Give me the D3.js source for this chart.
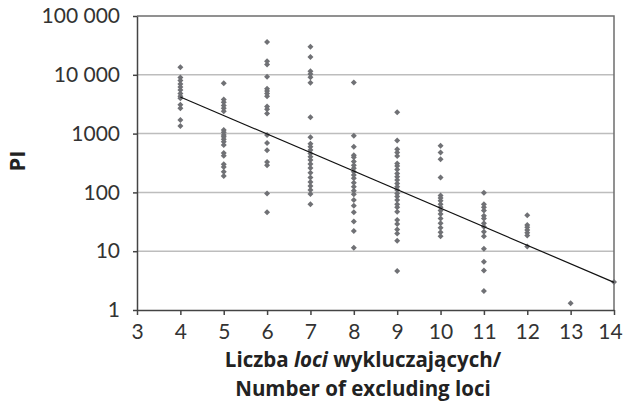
<!DOCTYPE html>
<html lang="pl">
<head>
  <meta charset="UTF-8">
  <title>PI vs liczba loci wykluczających</title>
  <script src="https://d3js.org/d3.v7.min.js"></script>
  <style>
    body { margin: 0; background: #fff; }
    svg text { font-family: Lato, "Open Sans", sans-serif; fill: #333; }
    .tick text { font-size: 21px; }
    .axis-title { font-family: "Open Sans", Lato, sans-serif; font-size: 20.5px; font-weight: bold; fill: #222; }
  </style>
</head>
<body>
  <div id="chart"></div>
  <script>
    // x tick values and y tick labels (log scale)
    const xTicks = [3, 4, 5, 6, 7, 8, 9, 10, 11, 12, 13, 14];
    const yTicks = [1, 10, 100, 1000, 10000, 100000];
    const yTickLabels = ["1", "10", "100", "1000", "10 000", "100 000"];

    // PI values, one array per number of excluding loci
    const pi4 = [13500, 9000, 8000, 7000, 6200, 5500, 4800, 4300, 4000, 3100, 2700, 1700, 1350];
    const pi5 = [7200, 3800, 3400, 3000, 2700, 2400, 1150, 1050, 950, 880, 800, 730, 640, 470, 420, 300, 270, 225, 190];
    const pi6 = [36000, 17000, 15000, 9300, 5800, 5300, 4800, 4300, 2900, 2600, 2200, 950, 690, 520, 330, 290, 96, 46];
    const pi7 = [30000, 20000, 11500, 10300, 9100, 7300, 1900, 870, 670, 600, 525, 460, 405, 355, 305, 260, 215, 180, 150, 128, 110, 94, 63];
    const pi8 = [7400, 920, 600, 430, 395, 335, 290, 257, 225, 198, 174, 146, 125, 107, 93, 74, 59, 46, 32, 22, 11.5];
    const pi9 = [2300, 760, 540, 475, 415, 310, 280, 245, 210, 185, 163, 142, 125, 110, 96, 85, 74, 63, 56, 47, 34, 29, 23.5, 20, 15, 4.6];
    const pi10 = [620, 475, 365, 180, 89, 80, 72, 63, 56, 49, 43, 36, 30, 25, 21, 18];
    const pi11 = [99, 63, 56, 49, 40, 36, 30, 26, 21.5, 18, 11, 6.6, 4.7, 2.1];
    const pi12 = [41, 28, 25.5, 23, 20.5, 18.5, 12];
    const pi13 = [1.3];
    const pi14 = [3];

    // trend line (exponential fit) endpoints
    const trendX = [4, 14];
    const trendY = [4200, 2.95];

    const width = 625;
    const height = 402;
    const margin = { top: 16, right: 11, bottom: 92, left: 137 };

    const groups = [
      [4, pi4], [5, pi5], [6, pi6], [7, pi7], [8, pi8], [9, pi9],
      [10, pi10], [11, pi11], [12, pi12], [13, pi13], [14, pi14]
    ];
    const points = [];
    groups.forEach(([x, vals]) => vals.forEach(v => points.push({ x: x, y: v })));

    const svg = d3.select("#chart")
      .append("svg")
      .attr("width", width)
      .attr("height", height);

    const xScale = d3.scaleLinear()
      .domain([3, 14])
      .range([margin.left, width - margin.right]);

    const yScale = d3.scaleLog()
      .domain([1, 100000])
      .range([height - margin.bottom, margin.top]);

    // Gridlines
    svg.append("g")
      .selectAll("line")
      .data(yTicks.slice(1, -1))
      .join("line")
      .attr("x1", margin.left)
      .attr("x2", width - margin.right)
      .attr("y1", d => yScale(d))
      .attr("y2", d => yScale(d))
      .attr("stroke", "#bdbdbd")
      .attr("stroke-width", 1.5);

    // Frame: top and right
    svg.append("path")
      .attr("d", `M${margin.left},${yScale(100000)}H${xScale(14)}V${yScale(1)}`)
      .attr("fill", "none")
      .attr("stroke", "#6e6e6e")
      .attr("stroke-width", 1.5);

    // Axes
    const xAxis = d3.axisBottom(xScale)
      .tickValues(xTicks)
      .tickFormat(d3.format("d"))
      .tickSize(5)
      .tickSizeOuter(0)
      .tickPadding(9);

    const yAxis = d3.axisLeft(yScale)
      .tickValues(yTicks)
      .tickFormat((d, i) => yTickLabels[i])
      .tickSize(4)
      .tickSizeOuter(0)
      .tickPadding(13);

    const gx = svg.append("g")
      .attr("transform", `translate(0, ${height - margin.bottom})`)
      .call(xAxis);

    const gy = svg.append("g")
      .attr("transform", `translate(${margin.left}, 0)`)
      .call(yAxis);

    [gx, gy].forEach(g => {
      g.select(".domain").attr("stroke", "#444").attr("stroke-width", 1.5);
      g.selectAll(".tick line").attr("stroke", "#444").attr("stroke-width", 1.5);
      g.selectAll(".tick text").attr("fill", "#333");
    });
    // keep the last label inside the picture
    gx.selectAll(".tick text").filter(d => d === 14).attr("dx", -4);

    // Points
    const diamond = d3.symbol().type(d3.symbolSquare).size(18);
    svg.append("g")
      .selectAll("path")
      .data(points)
      .join("path")
      .attr("d", diamond)
      .attr("transform", d => `translate(${xScale(d.x)}, ${yScale(d.y)}) rotate(45)`)
      .attr("fill", "#707175");

    // Trend line
    svg.append("line")
      .attr("x1", xScale(trendX[0]))
      .attr("y1", yScale(trendY[0]))
      .attr("x2", xScale(trendX[1]))
      .attr("y2", yScale(trendY[1]))
      .attr("stroke", "#111")
      .attr("stroke-width", 1.2);

    // Axis titles
    const xTitle = svg.append("text")
      .attr("class", "axis-title")
      .attr("x", 363)
      .attr("y", 367)
      .attr("text-anchor", "middle");
    xTitle.append("tspan").text("Liczba ");
    xTitle.append("tspan").attr("font-style", "italic").text("loci");
    xTitle.append("tspan").text(" wykluczających/");

    svg.append("text")
      .attr("class", "axis-title")
      .attr("x", 363)
      .attr("y", 396)
      .attr("text-anchor", "middle")
      .text("Number of excluding loci");

    svg.append("text")
      .attr("class", "axis-title")
      .attr("transform", "translate(25, 161) rotate(-90)")
      .attr("text-anchor", "middle")
      .style("font-size", "22px")
      .text("PI");
  </script>
</body>
</html>
